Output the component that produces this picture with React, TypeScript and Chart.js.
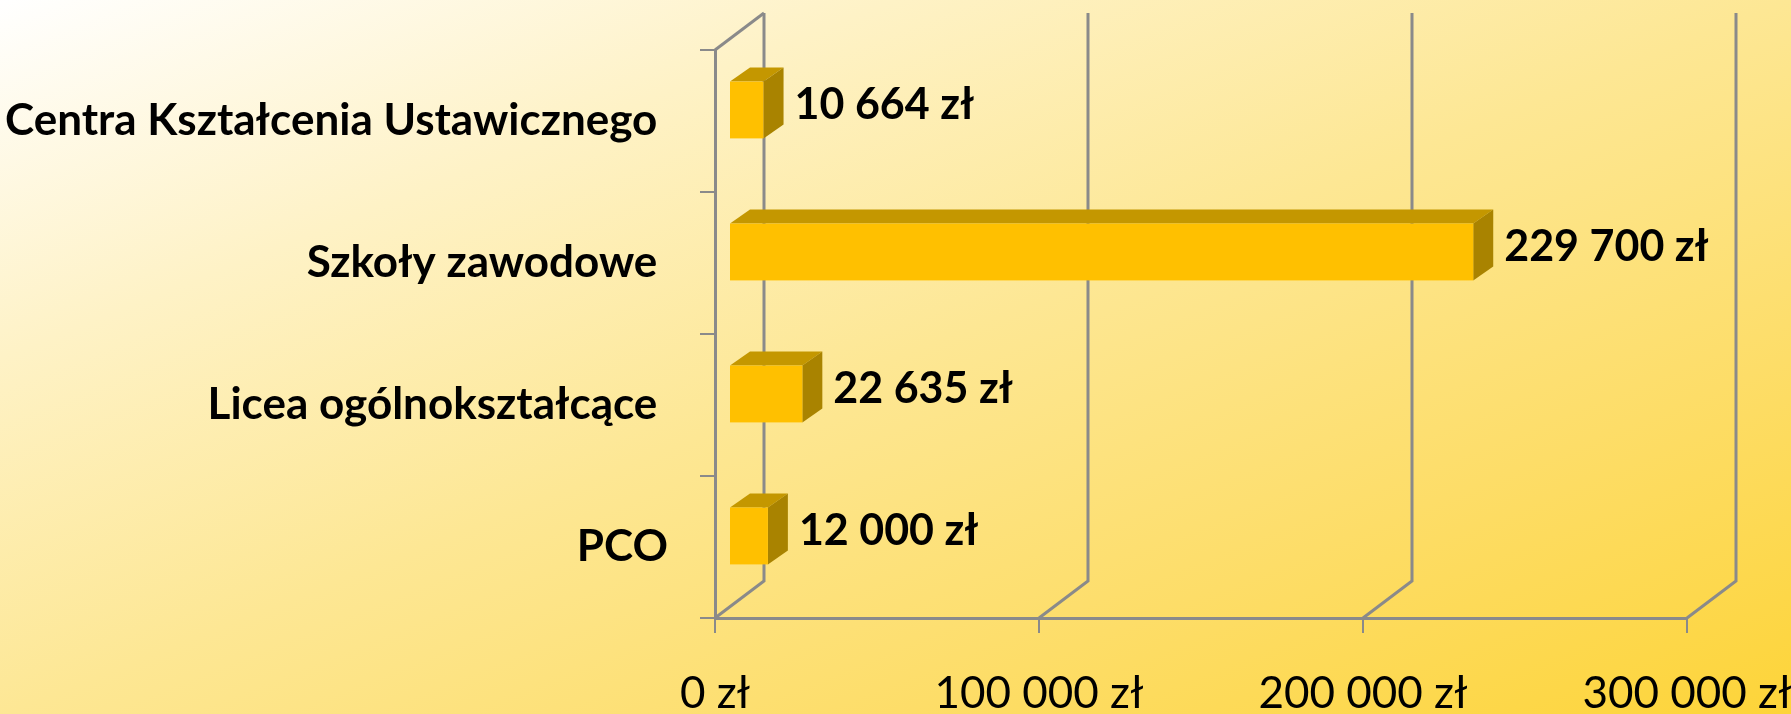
import React, { useEffect, useRef } from "react";
import { Chart, registerables } from "chart.js";

Chart.register(...registerables);

const categories: string[] = [
  "Centra Kształcenia Ustawicznego ",
  "Szkoły zawodowe ",
  "Licea ogólnokształcące ",
  "PCO",
];
const values: number[] = [10664, 229700, 22635, 12000];
const xTicks: number[] = [0, 100000, 200000, 300000];

const fmt = (v: number) =>
  String(Math.round(v)).replace(/\B(?=(\d{3})+(?!\d))/g, " ") + " zł";

const FONT = "Lato";
const GRID = "#8a8a8a";
// wall depth
const DX = 49;
const DY = -37;
// bar placement in depth
const BX = 14;
const BY = -11;
const BDX = 20;
const BDY = -14;

const bgPlugin = {
  id: "bg",
  beforeDraw(chart: any) {
    const { ctx, width, height } = chart;
    const g = ctx.createLinearGradient(0, 0, 494, 1235);
    g.addColorStop(0, "#ffffff");
    g.addColorStop(0.25, "#fef2c6");
    g.addColorStop(0.5, "#fde794");
    g.addColorStop(0.75, "#fddd68");
    g.addColorStop(1, "#fdd438");
    ctx.save();
    ctx.fillStyle = g;
    ctx.fillRect(0, 0, width, height);
    ctx.restore();
  },
};

const wallPlugin = {
  id: "walls",
  beforeDatasetsDraw(chart: any) {
    const { ctx, chartArea } = chart;
    const x = chart.scales.x;
    const { top, bottom, left } = chartArea;
    ctx.save();
    ctx.strokeStyle = GRID;
    ctx.lineWidth = 3;
    ctx.lineCap = "butt";
    ctx.beginPath();
    ctx.moveTo(left, top);
    ctx.lineTo(left + DX, top + DY);
    ctx.stroke();
    xTicks.forEach((v) => {
      const fx = x.getPixelForValue(v);
      ctx.beginPath();
      ctx.moveTo(fx + DX, top + DY);
      ctx.lineTo(fx + DX, bottom + DY);
      ctx.lineTo(fx, bottom);
      ctx.stroke();
    });
    ctx.restore();
  },
};

const bar3dPlugin = {
  id: "bar3d",
  afterDatasetsDraw(chart: any) {
    const { ctx } = chart;
    const meta = chart.getDatasetMeta(0);
    ctx.save();
    meta.data.forEach((el: any, i: number) => {
      const x0 = el.base + BX;
      const x1 = el.x + BX;
      const t = el.y - el.height / 2 + BY;
      const b = el.y + el.height / 2 + BY;
      ctx.fillStyle = "#c49700";
      ctx.beginPath();
      ctx.moveTo(x0, t);
      ctx.lineTo(x1, t);
      ctx.lineTo(x1 + BDX, t + BDY);
      ctx.lineTo(x0 + BDX, t + BDY);
      ctx.closePath();
      ctx.fill();
      ctx.fillStyle = "#a98300";
      ctx.beginPath();
      ctx.moveTo(x1, t);
      ctx.lineTo(x1 + BDX, t + BDY);
      ctx.lineTo(x1 + BDX, b + BDY);
      ctx.lineTo(x1, b);
      ctx.closePath();
      ctx.fill();
      ctx.fillStyle = "#ffc000";
      ctx.fillRect(x0, t, x1 - x0, b - t);
      ctx.fillStyle = "#000000";
      ctx.font = `bold 43px ${FONT}`;
      ctx.textAlign = "left";
      ctx.textBaseline = "middle";
      ctx.fillText(fmt(values[i]), x1 + BDX + 11, el.y + BY - 5);
    });
    ctx.restore();
  },
};

export default function App() {
  const ref = useRef<HTMLCanvasElement | null>(null);
  useEffect(() => {
    if (!ref.current) return;
    const chart = new Chart(ref.current, {
      type: "bar",
      data: {
        labels: categories,
        datasets: [
          {
            data: values,
            backgroundColor: "rgba(0,0,0,0)",
            borderWidth: 0,
            barPercentage: 0.4,
            categoryPercentage: 1,
          },
        ],
      },
      options: {
        indexAxis: "y",
        responsive: false,
        animation: false,
        events: [],
        layout: { padding: { top: 50, right: 104, left: 0, bottom: 0 } },
        plugins: { legend: { display: false }, tooltip: { enabled: false } },
        scales: {
          x: {
            min: 0,
            max: 300000,
            afterFit: (s: any) => {
              s.height = 96;
              s.paddingLeft = 0;
              s.paddingRight = 0;
              s.paddingTop = 0;
              s.paddingBottom = 0;
            },
            afterBuildTicks: (s: any) => {
              s.ticks = xTicks.map((v) => ({ value: v }));
            },
            ticks: {
              callback: (v: any) => fmt(Number(v)),
              color: "#000000",
              font: { family: FONT, size: 44 },
              padding: 34,
              maxRotation: 0,
              autoSkip: false,
            },
            grid: {
              drawOnChartArea: false,
              drawTicks: true,
              tickLength: 15,
              color: GRID,
              lineWidth: 2,
            },
            border: { display: true, color: GRID, width: 3 },
          },
          y: {
            afterFit: (s: any) => {
              s.width = 715;
              s.paddingLeft = 0;
              s.paddingRight = 0;
              s.paddingTop = 0;
              s.paddingBottom = 0;
            },
            ticks: {
              color: "#000000",
              font: { family: FONT, size: 44, weight: "bold" },
              padding: 32,
              autoSkip: false,
            },
            grid: {
              drawOnChartArea: false,
              drawTicks: true,
              tickLength: 15,
              color: GRID,
              lineWidth: 2,
              offset: true,
            },
            border: { display: true, color: GRID, width: 3 },
          },
        },
      },
      plugins: [bgPlugin, wallPlugin, bar3dPlugin],
    } as any);
    return () => chart.destroy();
  }, []);
  return (
    <div style={{ position: "fixed", left: 0, top: 0, width: 1791, height: 714 }}>
      <canvas ref={ref} width={1791} height={714} style={{ display: "block" }} />
    </div>
  );
}
